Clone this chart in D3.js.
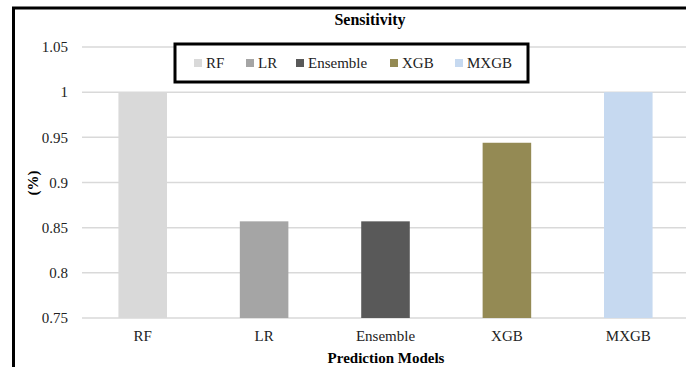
<!DOCTYPE html>
<html>
<head>
<meta charset="utf-8">
<script src="https://cdn.jsdelivr.net/npm/d3@7"></script>
<style>
  html, body { margin: 0; padding: 0; background: #fff; overflow: hidden; }
  svg { display: block; }
  svg text { font-family: "Liberation Serif", "DejaVu Serif", serif; }
</style>
</head>
<body>
<div id="chart"></div>
<script>
const models = ['RF', 'LR', 'Ensemble', 'XGB', 'MXGB'];
const sensitivity = [1.0, 0.857, 0.857, 0.944, 1.0];
const colors = ['#d9d9d9', '#a5a5a5', '#595959', '#948a54', '#c6d9f0'];
const yTicks = [0.75, 0.8, 0.85, 0.9, 0.95, 1, 1.05];

const width = 686;
const height = 367;
const margin = { top: 47, right: -3, bottom: 49, left: 82 };
const serif = '"Liberation Serif", "DejaVu Serif", serif';

const svg = d3.select('#chart').append('svg')
  .attr('width', width)
  .attr('height', height);

// outer frame (only left and top edges fall inside the picture)
svg.append('path')
  .attr('d', `M13.5,${height + 5}V8H${width + 5}`)
  .attr('fill', 'none')
  .attr('stroke', '#000')
  .attr('stroke-width', 3);

const xScale = d3.scaleBand()
  .domain(models)
  .range([margin.left, width - margin.right])
  .paddingInner(0.6)
  .paddingOuter(0.3);

const yScale = d3.scaleLinear()
  .domain([0.75, 1.05])
  .range([height - margin.bottom, margin.top]);

// gridlines
svg.append('g')
  .selectAll('line')
  .data(yTicks)
  .join('line')
  .attr('x1', margin.left)
  .attr('x2', width - margin.right)
  .attr('y1', (d) => yScale(d))
  .attr('y2', (d) => yScale(d))
  .attr('stroke', '#d9d9d9')
  .attr('stroke-width', 1.5);

// bars
svg.append('g')
  .selectAll('rect')
  .data(models)
  .join('rect')
  .attr('x', (d) => xScale(d))
  .attr('width', xScale.bandwidth())
  .attr('y', (d, i) => yScale(sensitivity[i]))
  .attr('height', (d, i) => yScale(0.75) - yScale(sensitivity[i]))
  .attr('fill', (d, i) => colors[i]);

// y axis labels
const yAxis = d3.axisLeft(yScale)
  .tickValues(yTicks)
  .tickFormat((d) => String(+d.toFixed(2)))
  .tickSize(0)
  .tickPadding(0);

svg.append('g')
  .attr('transform', 'translate(68,0)')
  .call(yAxis)
  .attr('font-family', null)
  .call((g) => g.select('.domain').remove())
  .selectAll('text')
  .style('font-family', serif)
  .attr('font-size', 15)
  .attr('fill', '#222');

// x axis labels
const xAxis = d3.axisBottom(xScale).tickSize(0).tickPadding(0);
svg.append('g')
  .attr('transform', `translate(0,${height - margin.bottom + 12})`)
  .call(xAxis)
  .attr('font-family', null)
  .call((g) => g.select('.domain').remove())
  .selectAll('text')
  .style('font-family', serif)
  .attr('font-size', 15)
  .attr('fill', '#222');

// title
svg.append('text')
  .attr('x', 370)
  .attr('y', 25)
  .attr('text-anchor', 'middle')
  .attr('font-weight', 'bold')
  .attr('font-size', 16)
  .style('font-family', serif)
  .text('Sensitivity');

// axis titles
svg.append('text')
  .attr('x', 386)
  .attr('y', 363)
  .attr('text-anchor', 'middle')
  .attr('font-weight', 'bold')
  .attr('font-size', 15)
  .style('font-family', serif)
  .text('Prediction Models');

svg.append('text')
  .attr('transform', 'translate(38,183) rotate(-90)')
  .attr('text-anchor', 'middle')
  .attr('font-weight', 'bold')
  .attr('font-size', 15)
  .style('font-family', serif)
  .text('(%)');

// legend
const legend = svg.append('g');
legend.append('rect')
  .attr('x', 175)
  .attr('y', 44)
  .attr('width', 353)
  .attr('height', 38)
  .attr('fill', '#fff')
  .attr('stroke', '#000')
  .attr('stroke-width', 3);

const legendX = [194, 246, 296, 390, 455];
const item = legend.selectAll('g.item')
  .data(models)
  .join('g')
  .attr('class', 'item')
  .attr('transform', (d, i) => `translate(${legendX[i]},63)`);

item.append('rect')
  .attr('x', 0)
  .attr('y', -4)
  .attr('width', 8)
  .attr('height', 8)
  .attr('fill', (d, i) => colors[i]);

item.append('text')
  .attr('x', 12)
  .attr('y', 5)
  .attr('font-size', 15)
  .attr('fill', '#222')
  .style('font-family', serif)
  .text((d) => d);
</script>
</body>
</html>
